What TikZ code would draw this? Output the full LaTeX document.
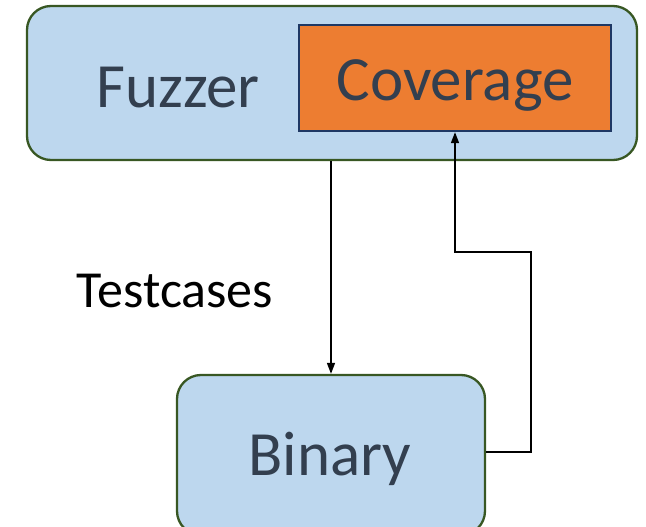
\documentclass[tikz,border=0pt]{standalone}
\usepackage{fontspec}
\setmainfont{Carlito}
\usetikzlibrary{arrows.meta}
\definecolor{boxblue}{HTML}{BDD7EE}
\definecolor{boxgreen}{HTML}{385723}
\definecolor{covorange}{HTML}{ED7D31}
\definecolor{covnavy}{HTML}{1F3864}
\definecolor{labelslate}{HTML}{333F4F}
\tikzset{
  unit/.style={rectangle, rounded corners=24pt, draw=boxgreen, fill=boxblue,
    line width=2.3pt, inner sep=0pt},
  covbox/.style={rectangle, draw=covnavy, fill=covorange, line width=2.3pt, inner sep=0pt},
  biglabel/.style={text=labelslate, font=\fontsize{63}{63}\selectfont, inner sep=0pt, anchor=base},
  flow/.style={line width=1.6pt, -{Triangle[length=11pt,width=8pt]}},
}
\begin{document}
\begin{tikzpicture}[x=1pt,y=-1pt]
\useasboundingbox (0,0) rectangle (646,527);
% main blocks
\node[unit, minimum width=610pt, minimum height=154pt] (fuzzer) at (332,83) {};
\node[covbox, minimum width=312pt, minimum height=106pt] (coverage) at (455,78) {};
\node[unit, minimum width=308pt, minimum height=160pt] (binary) at (331,455) {};
% labels
\node[biglabel, anchor=base west] (fuzzertext) at (96,107) {Fuzzer};
\node[biglabel] (covtext) at (455,101) {Coverage};
\node[biglabel] (bintext) at (330,475) {Binary};
\node[font=\fontsize{52}{52}\selectfont, inner sep=0pt, anchor=base] (tc) at (175,307) {Testcases};
% testcases go down into the binary
\draw[flow] (fuzzer.south -| 331,0) -- (binary.north -| 331,0);
% coverage feedback back into the fuzzer
\coordinate (r1) at (531,452);
\coordinate (r2) at (531,252);
\coordinate (r3) at (455,252);
\draw[flow] (binary.east |- r1) -- (r1) -- (r2) -- (r3) -- (coverage.south);
\end{tikzpicture}
\end{document}
